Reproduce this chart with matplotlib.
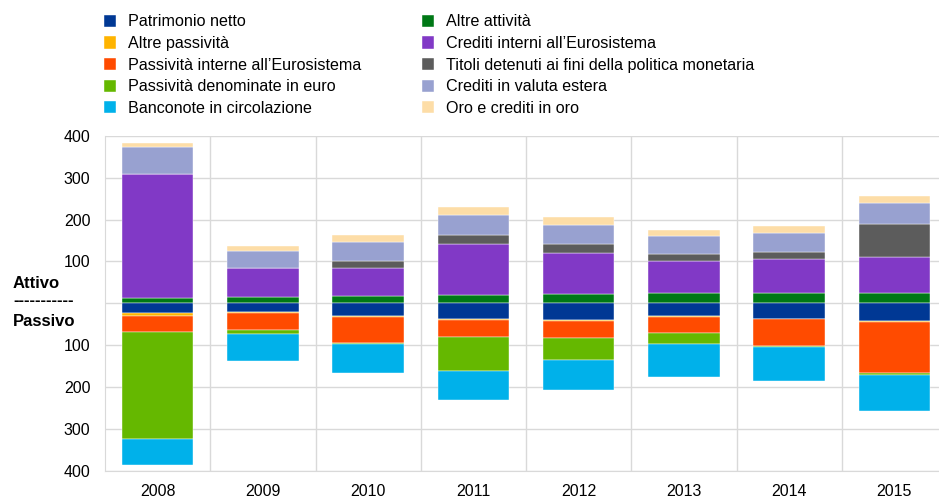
import matplotlib
matplotlib.use("Agg")
import matplotlib.pyplot as plt
import numpy as np
from matplotlib.ticker import FuncFormatter, FixedLocator

plt.rcParams['font.family'] = ['Liberation Sans', 'DejaVu Sans']

years = ['2008', '2009', '2010', '2011', '2012', '2013', '2014', '2015']

# attivo (sopra lo zero), dal basso verso l'alto
altre_attivita = [13, 14, 17.5, 20.5, 23, 24.5, 24, 24.5]
crediti_interni = [296, 71.5, 66.5, 122, 97.5, 76, 81, 86.5]
titoli = [0, 0, 17.5, 21.5, 20.5, 17.5, 18.5, 78]
crediti_valuta = [63.5, 39.5, 44.5, 46, 45, 41.5, 45, 51.5]
oro = [11, 12.5, 16.5, 20.5, 20.5, 15, 16.5, 16]

# passivo (sotto lo zero), dallo zero verso il basso
patrimonio = [22, 20.5, 30, 37.5, 39.5, 29.5, 36.5, 43]
altre_passivita = [7, 2.5, 3, 3, 3, 2.5, 1.5, 1]
passivita_interne = [40.5, 39.5, 62, 40.5, 40.5, 39.5, 64, 123]
passivita_denom = [255, 11, 1, 79.5, 51, 26, 2.5, 4]
banconote = [61, 64.5, 69, 70.5, 73, 78, 80.5, 86.5]

assets = [
    ('Altre attività', altre_attivita, '#007816'),
    ('Crediti interni all\u2019Eurosistema', crediti_interni, '#8139C6'),
    ('Titoli detenuti ai fini della politica monetaria', titoli, '#5C5C5C'),
    ('Crediti in valuta estera', crediti_valuta, '#98A1D0'),
    ('Oro e crediti in oro', oro, '#FDDDA7'),
]
liabilities = [
    ('Patrimonio netto', patrimonio, '#003894'),
    ('Altre passività', altre_passivita, '#FFB400'),
    ('Passività interne all\u2019Eurosistema', passivita_interne, '#FF4B00'),
    ('Passività denominate in euro', passivita_denom, '#65B800'),
    ('Banconote in circolazione', banconote, '#00B1EA'),
]

fig = plt.figure(figsize=(9.39, 4.97), dpi=100)
ax = fig.add_axes([105 / 939, 26 / 497, 842 / 939, (471 - 135.7) / 497])

x = np.arange(len(years))
w = 0.68
handles = {}

bottom = np.zeros(len(years))
for name, vals, col in assets:
    v = np.array(vals, dtype=float)
    b = ax.bar(x, v, w, bottom=bottom, color=col, edgecolor='white', linewidth=0.3, zorder=3)
    handles[name] = b
    bottom += v

bottom = np.zeros(len(years))
for name, vals, col in liabilities:
    v = -np.array(vals, dtype=float)
    b = ax.bar(x, v, w, bottom=bottom, color=col, edgecolor='white', linewidth=0.3, zorder=3)
    handles[name] = b
    bottom += v

ax.set_xlim(-0.5, len(years) - 0.5)
ax.set_ylim(-400, 400)
ax.set_yticks(np.arange(-400, 401, 100))
ax.yaxis.set_major_formatter(FuncFormatter(lambda v, p: '' if v == 0 else '%d' % abs(v)))
ax.set_xticks(x)
ax.set_xticklabels(years)
ax.xaxis.set_minor_locator(FixedLocator(np.arange(0.5, len(years) - 0.5, 1)))
ax.grid(axis='y', color='#d9d9d9', linewidth=1, zorder=0)
ax.grid(axis='x', which='minor', color='#d9d9d9', linewidth=1, zorder=0)
ax.tick_params(which='both', length=0, labelsize=11.5, colors='black')
ax.tick_params(axis='y', pad=10.5)
ax.tick_params(axis='x', pad=9)
for s in ['top', 'right']:
    ax.spines[s].set_visible(False)
for s in ['left', 'bottom']:
    ax.spines[s].set_color('#d9d9d9')

fig.text(13 / 939, 1 - 283 / 497, 'Attivo', fontsize=12, fontweight='bold', va='center')
fig.text(13 / 939, 1 - 301 / 497, '-----------', fontsize=12, fontweight='bold', va='center')
fig.text(13 / 939, 1 - 321 / 497, 'Passivo', fontsize=12, fontweight='bold', va='center')

order = [n for n, _, _ in liabilities] + [n for n, _, _ in assets]
fig.legend([handles[n] for n in order], order, ncol=2, frameon=False,
           loc='upper left', bbox_to_anchor=(89 / 939, 1.0), fontsize=11.6,
           handlelength=0.78, handleheight=0.78, handletextpad=0.75,
           columnspacing=3.75, labelspacing=0.41)

fig.savefig('out.png', dpi=100)
